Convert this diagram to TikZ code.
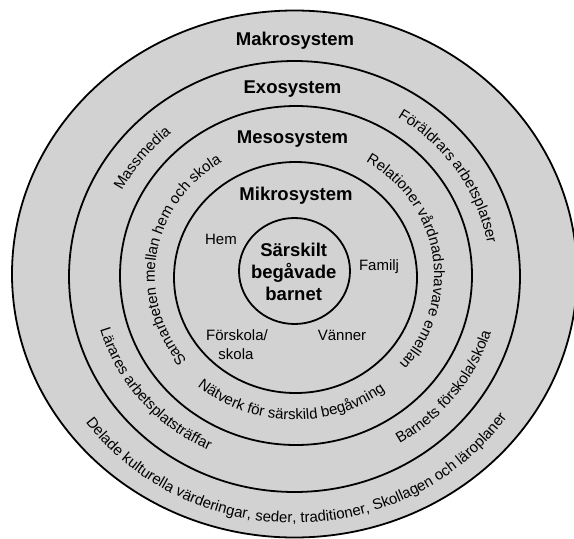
\documentclass[tikz,border=0pt]{standalone}
\usepackage{fontspec}
\setmainfont{Liberation Sans}
\usetikzlibrary{decorations.text}
\definecolor{ringgray}{RGB}{210,210,210}
\newcommand\curvefont{\fontsize{15}{18}\selectfont}
\begin{document}
\begin{tikzpicture}[x=1pt,y=1pt,
  ring/.style={draw=black, line width=1.8pt},
  title/.style={font=\fontsize{18.5}{22}\selectfont\bfseries, anchor=base, inner sep=0pt},
  plain/.style={font=\fontsize{15}{18}\selectfont, anchor=base, inner sep=0pt},
  along/.style={decorate, decoration={text along path, text align=center, text={|\curvefont|#1}}}
]
\useasboundingbox (0,0) rectangle (574,-539);
\clip (0,0) rectangle (574,-539);
% rings
\fill[ringgray] (294.5,-274) ellipse[x radius=282.5, y radius=263.5];
\draw[ring] (294.5,-274) ellipse[x radius=282.5, y radius=263.5];
\draw[ring] (294.5,-276.5) ellipse[x radius=225.5, y radius=215.5];
\draw[ring] (296,-275.5) ellipse[x radius=176, y radius=169.5];
\draw[ring] (295.5,-277.5) ellipse[x radius=121.5, y radius=115.5];
\draw[ring] (294.5,-271) ellipse[x radius=55.5, y radius=53];
% ring titles
\node[title] (makro) at (295,-45) {Makrosystem};
\node[title] (exo) at (292.5,-93) {Exosystem};
\node[title] (meso) at (292.5,-143) {Mesosystem};
\node[title] (mikro) at (296,-200.5) {Mikrosystem};
% centre
\node[title] (c1) at (293.7,-256.7) {Särskilt};
\node[title] (c2) at (293.7,-278.3) {begåvade};
\node[title] (c3) at (293.7,-300) {barnet};
% mikro labels
\node[plain] (hem) at (221,-244.5) {Hem};
\node[plain] (familj) at (379,-270) {Familj};
\node[plain] (forskola) at (237,-340) {Förskola/};
\node[plain] (skola) at (236,-359) {skola};
\node[plain] (vanner) at (342,-340) {Vänner};
% curved texts
\path[along={Massmedia}] (294.5,-276) ++(171.3:194.25 and 185) arc[start angle=171.3, end angle=111.3, x radius=194.25, y radius=185];
\path[along={Föräldrars arbetsplatser}] (294.5,-276) ++(73.85:195.8 and 186.5) arc[start angle=73.85, end angle=-6.15, x radius=195.8, y radius=186.5];
\path[along={Samarbeten mellan hem och skola}] (294.5,-276) ++(240.6:139.65 and 133) arc[start angle=240.6, end angle=100.6, x radius=139.65, y radius=133];
\path[along={Relationer vårdnadshavare emellan}] (294.5,-276) ++(78.8:139.65 and 133) arc[start angle=78.8, end angle=-61.2, x radius=139.65, y radius=133];
\path[along={Nätverk för särskild begåvning}] (294.5,-276) ++(-161.55:150.9 and 143.7) arc[start angle=-161.55, end angle=-21.55, x radius=150.9, y radius=143.7];
\path[along={Lärares arbetsplatsträffar}] (294.5,-276) ++(-179.8:202.3 and 192.7) arc[start angle=-179.8, end angle=-99.8, x radius=202.3, y radius=192.7];
\path[along={Barnets förskola/skola}] (294.5,-276) ++(-77.6:205.1 and 195.3) arc[start angle=-77.6, end angle=2.4, x radius=205.1, y radius=195.3];
\path[along={Delade kulturella värderingar, seder, traditioner, Skollagen och läroplaner}] (294.5,-276) ++(-164.3:259.2 and 246.9) arc[start angle=-164.3, end angle=-14.3, x radius=259.2, y radius=246.9];
\end{tikzpicture}
\end{document}
